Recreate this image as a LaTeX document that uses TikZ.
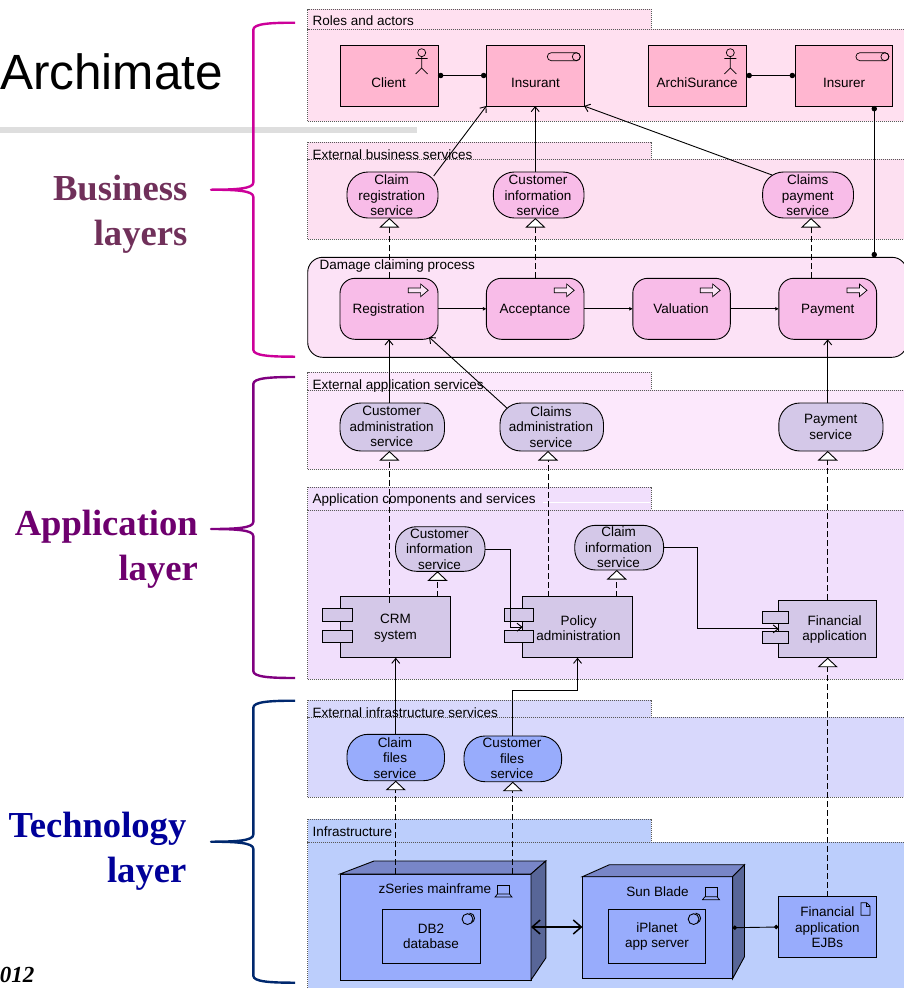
\documentclass[tikz,border=0pt]{standalone}
\usepackage{fontspec}
\setmainfont{Liberation Sans}
\newfontfamily\layerfont{Liberation Serif}
\usetikzlibrary{arrows.meta}
\usetikzlibrary{calc,fit}
\definecolor{roleframe}{RGB}{255,224,240}
\definecolor{busframe}{RGB}{253,224,241}
\definecolor{procframe}{RGB}{252,226,246}
\definecolor{appsvcframe}{RGB}{252,232,252}
\definecolor{appframe}{RGB}{241,223,252}
\definecolor{infsvcframe}{RGB}{216,216,252}
\definecolor{infframe}{RGB}{188,206,252}
\definecolor{rolefill}{RGB}{255,182,208}
\definecolor{busfill}{RGB}{248,188,232}
\definecolor{appfill}{RGB}{212,200,232}
\definecolor{techfill}{RGB}{152,172,252}
\definecolor{devtop}{RGB}{120,134,200}
\definecolor{devside}{RGB}{88,102,152}
\definecolor{busbrace}{RGB}{204,0,153}
\definecolor{appbrace}{RGB}{128,0,128}
\definecolor{techbrace}{RGB}{0,40,110}
\tikzset{
    framebox/.style={draw=black!65, line width=0.9pt, dash pattern=on 1pt off 1pt, inner sep=0pt, outer sep=0pt},
    framelabel/.style={anchor=west, inner sep=0pt, font=\fontsize{13.5}{15.5}\selectfont},
    elembox/.style={draw=black, line width=0.9pt, inner sep=0pt, outer sep=0pt},
    svcbox/.style={elembox, rounded corners=21pt},
    procbox/.style={elembox, rounded corners=15pt},
    elemtext/.style={align=center, inner sep=0pt, font=\fontsize{13.5}{15.5}\selectfont},
    layertext/.style={anchor=east, align=right, inner sep=0pt, font=\layerfont\bfseries\fontsize{36.6}{45}\selectfont},
    icon/.style={draw=black, line width=0.7pt},
    used/.style={line width=0.9pt, -{Straight Barb[length=5pt,width=8pt]}},
    trigger/.style={line width=0.9pt, -{Latex[length=3.5pt,width=4pt]}},
    assign/.style={line width=0.9pt, {Circle[length=5.4pt]}-{Circle[length=5.4pt]}},
    realiz/.style={line width=0.9pt, dash pattern=on 6pt off 3pt, -{Triangle[open,length=9.5pt,width=20pt,fill=white]}},
    bracestyle/.style={line width=2.4pt, line join=round},
}
\newcommand{\layerframe}[7]{
    % #1 = name
    % #2 = colour
    % #3 = top of tab
    % #4 = top of body
    % #5 = bottom of body
    % #6 = y of the label
    % #7 = label
    \node[framebox, fill=#2, fit={(307.7,#3) (651,#4)}] (#1-tab) {};
    \node[framebox, fill=#2, fit={(307.7,#4) (915,#5)}] (#1) {};
    \node[framelabel] (#1-label) at (312.5,#6) {#7};
}
\newcommand{\element}[6]{
    % #1 = name
    % #2 = style and fill
    % #3 = top left
    % #4 = bottom right
    % #5 = position of the text
    % #6 = text
    \node[#2, fit={(#3) (#4)}] (#1) {};
    \node[elemtext] (#1-text) at (#5) {#6};
}
\newcommand{\realize}[3]{
    % #1 = from, #2 = service, #3 = offset
    \draw[realiz] ($(#1.north -| #2.south)+(#3,0)$) -- ($(#2.south)+(#3,0)$);
}
\newcommand{\layerbrace}[4]{
    % #1 = colour, #2 = top, #3 = tip, #4 = bottom
    \draw[bracestyle, #1] (295,#2) .. controls (270,#2) and (253.3,{#2+1}) .. (253.3,{#2+7})
        -- (253.3,{#3-7}) .. controls (253.3,{#3-1}) and (236,#3) .. (211,#3)
        .. controls (236,#3) and (253.3,{#3+1}) .. (253.3,{#3+7})
        -- (253.3,{#4-7}) .. controls (253.3,{#4-1}) and (270,#4) .. (295,#4);
}
\newcommand{\device}[6]{
    % #1 = name
    % #2 = top left
    % #3 = bottom right
    % #4 = depth left
    % #5 = depth right
    % #6 = depth top
    \node[elembox, fill=techfill, fit={(#2) (#3)}] (#1) {};
    \draw[elembox, fill=devtop] (#1.north west) -- ++(#4,-#6) -- ($(#1.north east)+(#5,-#6)$) -- (#1.north east) -- cycle;
    \draw[elembox, fill=devside] (#1.north east) -- ++(#5,-#6) -- ($(#1.south east)+(#5,-22)$) -- (#1.south east) -- cycle;
}
\newcommand{\actoricon}[1]{
    % #1 = centre of the head
    \begin{scope}[shift={(#1)}]
        \draw[icon] (0,0) circle (4);
        \draw[icon] (0,4) -- (0,15.3) -- (-6,21.3) (0,15.3) -- (6,21.3) (-6,5.8) -- (6,5.8);
    \end{scope}
}
\newcommand{\roleicon}[1]{
    \begin{scope}[shift={(#1)}]
        \draw[icon, rounded corners=4pt] (0,0) rectangle (33,8);
        \draw[icon] (29,4) circle (4);
    \end{scope}
}
\newcommand{\procicon}[1]{
    \begin{scope}[shift={(#1)}]
        \draw[icon, fill=white!60!busfill] (0,4) -- (12.4,4) -- (12.4,0) -- (20,6.3) -- (12.4,12.7) -- (12.4,8.8) -- (0,8.8) -- cycle;
    \end{scope}
}
\newcommand{\compicon}[1]{
    \begin{scope}[shift={(#1)}]
        \draw[icon] (2.5,9) -- (2.5,0) -- (14.5,0) -- (14.5,9);
        \draw[icon] (2.5,9) -- (0,12) -- (17,12) -- (14.5,9) -- cycle;
    \end{scope}
}
\newcommand{\softicon}[1]{
    % #1 = centre of the circle
    \begin{scope}[shift={(#1)}]
        \draw[icon, line width=0.9pt] (-0.8,0.4) circle (5.4);
        \draw[icon, line width=0.9pt] (1.2,-0.6) ++(0,-5) arc (-90:70:5);
    \end{scope}
}
\newcommand{\docicon}[1]{
    \begin{scope}[shift={(#1)}]
        \draw[icon] (0,0) -- (5.5,0) -- (9,3.5) -- (9,12.6) -- (0,12.6) -- cycle;
        \draw[icon] (5.5,0) -- (5.5,3.5) -- (9,3.5);
    \end{scope}
}
\newcommand{\comptabs}[5]{
    % #1 = left, #2 = right, #3 = y first, #4 = y second, #5 = height
    \draw[elembox, fill=appfill] (#1,#3) rectangle (#2,{#3+#5});
    \draw[elembox, fill=appfill] (#1,#4) rectangle (#2,{#4+#5});
}
\begin{document}
\begin{tikzpicture}[x=1pt, y=-1pt]

    \useasboundingbox (0,0) rectangle (904,988);
    \clip (0,0) rectangle (904,988);

    \fill[black!13] (0,127) rectangle (417,133);

    \node[anchor=base west, inner sep=0pt, font=\fontsize{49.5}{55}\selectfont] (title) at (0,89) {Archimate};

    \node[layertext, text=black, font=\layerfont\bfseries\itshape\fontsize{23}{30}\selectfont] (year) at (34.5,974.5) {012};

    \node[layertext, text={rgb,255:red,112;green,48;blue,90}] (business) at (187.5,214.5) {Business\\layers};
    \node[layertext, text={rgb,255:red,110;green,0;blue,110}] (application) at (198,549) {Application\\layer};
    \node[layertext, text={rgb,255:red,0;green,0;blue,153}] (technology) at (186.5,851) {Technology\\layer};

    \layerbrace{busbrace}{22.7}{189.7}{356.7}
    \layerbrace{appbrace}{377}{529}{678}
    \layerbrace{techbrace}{700.7}{841.7}{982.7}

    %
    % frames
    %

    \layerframe{roles}{roleframe}{9}{29}{121}{21}{Roles and actors}
    \layerframe{busservices}{busframe}{142}{159}{239}{154.7}{External business services}
    \layerframe{appservices}{appsvcframe}{372}{390}{469}{385.7}{External application services}
    \layerframe{appcomps}{appframe}{487}{510}{679}{499.7}{Application components and services}
    \layerframe{infservices}{infsvcframe}{700}{717}{797}{712.7}{External infrastructure services}
    \layerframe{infra}{infframe}{819}{842}{1000}{831.2}{Infrastructure}

    \draw[white, line width=0.7pt] (543,502.5) -- (650,502.5);

    \node[elembox, fill=procframe, rounded corners=15pt, fit={(307.7,257.3) (907,357.3)}] (process) {};
    \node[framelabel] (process-label) at (319.3,265.7) {Damage claiming process};

    %
    % business layer
    %

    \element{client}{elembox, fill=rolefill}{340,45}{438,106}{388.6,82.7}{Client}
    \element{insurant}{elembox, fill=rolefill}{486.4,45}{584,106}{535.4,82.7}{Insurant}
    \element{archisurance}{elembox, fill=rolefill}{648.6,45}{746.5,106}{697.2,82.7}{ArchiSurance}
    \element{insurer}{elembox, fill=rolefill}{795,45}{892.5,106}{844,82.7}{Insurer}

    \actoricon{421.7,52.7}
    \actoricon{730.3,52.7}
    \roleicon{547.3,52.7}
    \roleicon{855.9,52.7}

    \element{claimreg}{svcbox, fill=busfill}{347,172}{438,218}{391.7,195.5}{Claim\\registration\\service}
    \element{custinfo}{svcbox, fill=busfill}{493.4,172}{584,218}{538,195.5}{Customer\\information\\service}
    \element{claimspay}{svcbox, fill=busfill}{762.6,172}{853.5,218}{807.7,195.5}{Claims\\payment\\service}

    \element{registration}{procbox, fill=busfill}{340,278.3}{438,339.3}{388.6,310}{Registration}
    \element{acceptance}{procbox, fill=busfill}{486.4,278.3}{584,339.3}{535,310}{Acceptance}
    \element{valuation}{procbox, fill=busfill}{632.8,278.3}{730.3,339.3}{681,309}{Valuation}
    \element{payment}{procbox, fill=busfill}{778.8,278.3}{876.6,339.3}{827.7,310}{Payment}

    \procicon{408.2,284}
    \procicon{554.2,284}
    \procicon{700.2,284}
    \procicon{847,284}

    %
    % application layer
    %

    \element{custadmin}{svcbox, fill=appfill}{340,403}{444.5,451}{391.7,426.7}{Customer\\administration\\service}
    \element{claimsadmin}{svcbox, fill=appfill}{500,403}{603.5,451}{551,426.7}{Claims\\administration\\service}
    \element{paysvc}{svcbox, fill=appfill}{778.8,403}{883,451}{830.8,427}{Payment\\service}

    \element{appcust}{svcbox, fill=appfill}{395.5,526.7}{485,571.3}{439.4,549}{Customer\\information\\service}
    \element{claiminfo}{svcbox, fill=appfill}{574.7,525.3}{663.6,570}{618.6,547.5}{Claim\\information\\service}

    \element{crm}{elembox, fill=appfill}{340.4,596.7}{450.6,657.7}{395.5,628}{CRM\\system}
    \comptabs{322.3}{352}{608.7}{630}{12.7}
    \element{policy}{elembox, fill=appfill}{522.7,596.7}{632.4,657.7}{578.5,628}{Policy\\administration}
    \comptabs{504.5}{533.4}{608.7}{630}{12.7}
    \element{financial}{elembox, fill=appfill}{778.8,600}{876.6,657.7}{834.7,629.5}{Financial\\application}
    \comptabs{762.2}{788.8}{611.3}{631.3}{12}

    %
    % technology layer
    %

    \element{claimfiles}{svcbox, fill=techfill}{347,734.3}{444.5,780.7}{395,757.7}{Claim\\files\\service}
    \element{custfiles}{svcbox, fill=techfill}{464,736}{561.6,781.7}{512,758.7}{Customer\\files\\service}

    \device{zseries}{340,874}{531,980}{34}{14.8}{13}
    \device{sunblade}{582.4,876.7}{732.6,978.7}{27}{11.9}{12}

    \node[elemtext] (zseries-text) at (435,889) {zSeries mainframe};
    \node[elemtext] (sunblade-text) at (657.5,891.7) {Sun Blade};
    \compicon{495,885}
    \compicon{702.5,887.7}

    \element{db2}{elembox, fill=techfill}{382.4,909.3}{480.3,963.3}{431,936.5}{DB2\\database}
    \element{iplanet}{elembox, fill=techfill}{608.6,909.3}{705.6,963.3}{657,936.5}{iPlanet\\app server}
    \softicon{468.3,918.7}
    \softicon{694.4,918.7}

    \element{ejbs}{elembox, fill=techfill}{778.4,896.7}{876.7,957.3}{827.3,927.2}{Financial\\application\\EJBs}
    \docicon{861,902.7}

    %
    % connectors
    %

    \draw[assign] (client.east) -- (insurant.west);
    \draw[assign] (archisurance.east) -- (insurer.west);

    \coordinate (insurerdrop) at ($(insurer.south)+(30.5,0)$);
    \draw[assign] (insurerdrop) -- (insurerdrop |- process.north);

    \draw[used] ($(claimreg.north east)+(-4.3,4)$) -- (insurant.south west);
    \draw[used] (insurant.south |- custinfo.north) -- (insurant.south);
    \draw[used] ($(claimspay.north west)+(9.4,3)$) -- (insurant.south east);

    \realize{registration}{claimreg}{-3.1}
    \realize{acceptance}{custinfo}{-3.3}
    \realize{payment}{claimspay}{3}

    \draw[trigger] (registration.east) -- (acceptance.west);
    \draw[trigger] (acceptance.east) -- (valuation.west);
    \draw[trigger] (valuation.east) -- (payment.west);

    \draw[used] (registration.south |- custadmin.north) -- (registration.south);
    \draw[used] ($(claimsadmin.north west)+(6.9,5)$) -- ($(registration.south east)+(-9,-2.3)$);
    \draw[used] (payment.south |- paysvc.north) -- (payment.south);

    \draw[realiz] ($(crm.north -| custadmin.south)+(-2.85,6)$) -- ($(custadmin.south)+(-2.85,0)$);
    \realize{policy}{claimsadmin}{-3.75}
    \realize{financial}{paysvc}{-3.2}
    \realize{crm}{appcust}{-2.75}
    \realize{policy}{claiminfo}{-2.4}
    \realize{ejbs}{financial}{0}

    \draw[used] (appcust.east) -- ++(25.7,0) |- (policy.west);
    \draw[used] (claiminfo.east) -- ++(34,0) |- (financial.west);

    \draw[used] (claimfiles.north) -- (claimfiles.north |- crm.south);
    \draw[used] (custfiles.north) -- ++(0,-45.3) -| (policy.south);

    \realize{zseries}{claimfiles}{0}
    \realize{zseries}{custfiles}{0}

    \draw[line width=1.5pt, {Straight Barb[length=8pt,width=14pt]}-{Straight Barb[length=8pt,width=14pt]}] (zseries.east) -- (zseries.east -| sunblade.west);
    \draw[assign, {Circle[length=4.4pt]}-{Circle[length=4.4pt]}] (sunblade.east) -- (ejbs.west);

\end{tikzpicture}
\end{document}
